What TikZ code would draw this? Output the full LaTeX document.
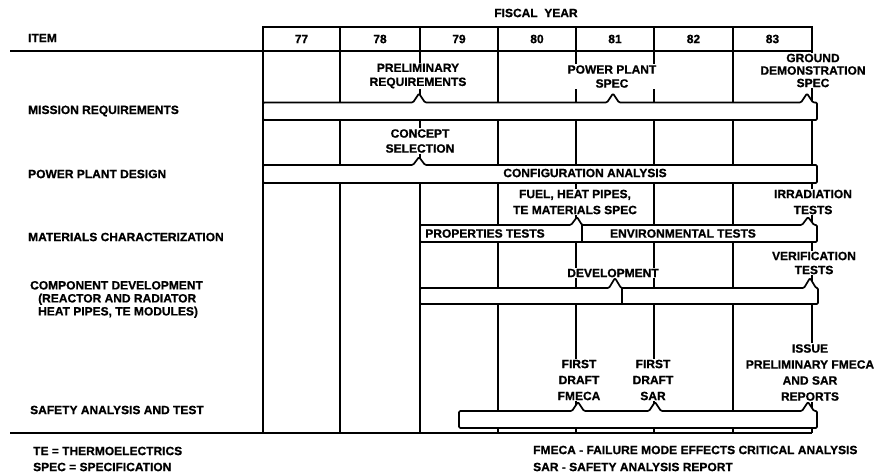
\documentclass[tikz,border=0pt]{standalone}
\usepackage{fontspec}
\setmainfont{Liberation Sans}[BoldFeatures={FakeBold=0.8}]
\begin{document}
\begin{tikzpicture}[x=1pt,y=-1pt,
  txt/.style={font=\fontsize{12}{14}\selectfont\bfseries, inner sep=0pt},
  ms/.style={txt, align=center, fill=white, inner sep=1pt},
  ms3/.style={ms, font=\fontsize{12}{16}\selectfont\bfseries},
  gridline/.style={line width=1.4pt},
  bar/.style={line width=1.7pt, fill=white, rounded corners=1.2pt, line join=round}]
\useasboundingbox (0,0) rectangle (879,476);

% grid
\draw[gridline] (263,27) rectangle (812,51);
\draw[gridline] (10,51) -- (263,51);
\foreach \x in {263,340,420,498,576,654,733,812}
  \draw[gridline] (\x,27) -- (\x,433);
\draw[gridline] (10,433) -- (812,433);

% header
\node[txt] (fy) at (536,13) {FISCAL\ \ YEAR};
\node[txt, anchor=west] (item) at (28,38) {ITEM};
\node[txt] (y77) at (301.5,39) {77};
\node[txt] (y78) at (380,39) {78};
\node[txt] (y79) at (459,39) {79};
\node[txt] (y80) at (537,39) {80};
\node[txt] (y81) at (615,39) {81};
\node[txt] (y82) at (693.5,39) {82};
\node[txt] (y83) at (772.5,39) {83};

% row labels
\node[txt, anchor=west] (lmission) at (28,111) {MISSION REQUIREMENTS};
\node[txt, anchor=west] (ldesign) at (28,174) {POWER PLANT DESIGN};
\node[txt, anchor=west] (lmat) at (28,237) {MATERIALS CHARACTERIZATION};
\node[txt, anchor=west, align=left, font=\fontsize{12}{13}\selectfont\bfseries] (lcomp) at (30,299.5)
  {COMPONENT DEVELOPMENT\\\hspace*{8pt}(REACTOR AND RADIATOR\\\hspace*{8pt}HEAT PIPES, TE MODULES)};
\node[txt, anchor=west] (lsafety) at (30,410) {SAFETY ANALYSIS AND TEST};

% milestone texts
\node[ms] (prelim) at (418,76) {PRELIMINARY\\REQUIREMENTS};
\node[ms] (ppspec) at (612,76.5) {POWER PLANT\\SPEC};
\node[ms, font=\fontsize{12}{12.5}\selectfont\bfseries] (ground) at (813,70.5) {GROUND\\DEMONSTRATION\\SPEC};
\node[ms, font=\fontsize{12}{15}\selectfont\bfseries] (concept) at (420,141) {CONCEPT\\SELECTION};
\node[ms3] (fuel) at (575,202) {FUEL, HEAT PIPES,\\TE MATERIALS SPEC};
\node[ms3] (irrad) at (813,202) {IRRADIATION\\TESTS};
\node[ms] (devel) at (613,273) {DEVELOPMENT};
\node[ms] (verif) at (814,263) {VERIFICATION\\TESTS};
\node[ms3] (fdfmeca) at (579,380) {FIRST\\DRAFT\\FMECA};
\node[ms3] (fdsar) at (653,380) {FIRST\\DRAFT\\SAR};
\node[ms3] (issue) at (810,372.5) {ISSUE\\PRELIMINARY FMECA\\AND SAR\\REPORTS};

% bars
\draw[bar] (263,102.5) -- (413,102.5) -- (419,93.5) -- (425,102.5) -- (607,102.5) -- (613,93.5) -- (619,102.5)
  -- (801,102.5) -- (807,93.5) -- (813,102.5) -- (817,102.5) -- (817,120) -- (263,120) -- cycle;
\draw[bar] (263,165) -- (413,165) -- (419,157) -- (425,165) -- (817,165) -- (817,183) -- (263,183) -- cycle;
\draw[bar] (420,225) -- (571,225) -- (577,217) -- (582,225) -- (802,225) -- (808,217) -- (814,225) -- (817,225)
  -- (817,242) -- (420,242) -- cycle;
\draw[line width=1.7pt] (582,225) -- (582,242);
\draw[bar] (420,288) -- (609,288) -- (615,278) -- (621,288) -- (804,288) -- (810,278) -- (816,288) -- (818,288)
  -- (818,304) -- (420,304) -- cycle;
\draw[line width=1.7pt] (622,288) -- (622,304);
\draw[bar] (459,411) -- (572,411) -- (578,402) -- (584,411) -- (649,411) -- (655,402) -- (661,411)
  -- (802,411) -- (808,402) -- (814,411) -- (817,411) -- (817,428) -- (459,428) -- cycle;

% bar texts
\node[txt] (config) at (585,173) {CONFIGURATION ANALYSIS};
\node[txt] (props) at (485,233.5) {PROPERTIES TESTS};
\node[txt] (envir) at (683,233.5) {ENVIRONMENTAL TESTS};

% footnotes
\node[txt, anchor=west] (fte) at (33,451) {TE = THERMOELECTRICS};
\node[txt, anchor=west] (fspec) at (33,467) {SPEC = SPECIFICATION};
\node[txt, anchor=west] (ffmeca) at (533,450) {FMECA - FAILURE MODE EFFECTS CRITICAL ANALYSIS};
\node[txt, anchor=west] (fsar) at (533,467) {SAR - SAFETY ANALYSIS REPORT};
\end{tikzpicture}
\end{document}
